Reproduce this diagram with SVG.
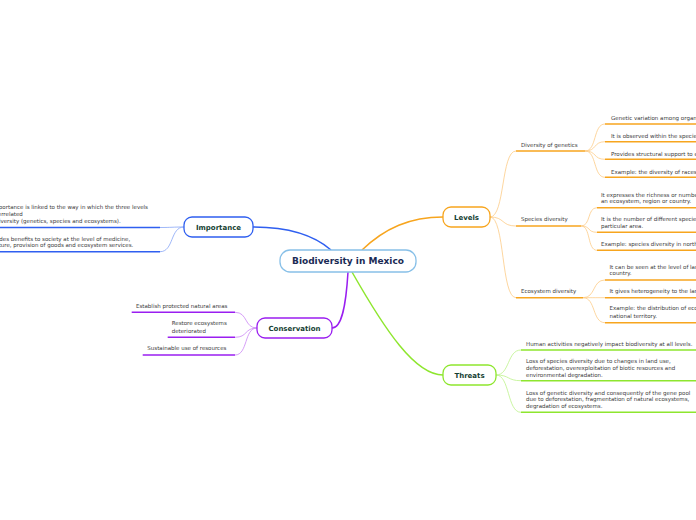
<svg xmlns="http://www.w3.org/2000/svg" width="696" height="520" viewBox="0 0 696 520">
<style>
.t{font-family:"DejaVu Sans",Verdana,sans-serif;font-size:5.5px;fill:#3a3a3a}
.n{font-family:"DejaVu Sans",Verdana,sans-serif;font-size:7px;font-weight:bold;fill:#163f33;text-anchor:middle}
.c{font-family:"DejaVu Sans",Verdana,sans-serif;font-size:9px;font-weight:bold;fill:#1a2b55;text-anchor:middle}
.box{fill:#fff;stroke-width:1.3}
path{fill:none}
.bu{stroke:#2f5ff0;stroke-width:1.6}.bc{stroke:#86a4f6;stroke-width:0.8}
.ou{stroke:#f7a51e;stroke-width:1.6}.oc{stroke:#fdcb86;stroke-width:0.8}
.pu{stroke:#9a1ef0;stroke-width:1.6}.pc{stroke:#cc86f5;stroke-width:0.8}
.gu{stroke:#8ee62e;stroke-width:1.6}.gc{stroke:#bdf28a;stroke-width:0.8}
</style>
<rect width="696" height="520" fill="#fff"/>
<g id="connectors">
  <path d="M331,250 C315,236 290,227 253,227" stroke="#2f5ff0" stroke-width="1.5"/>
  <path d="M362,250 C385,228 410,217 443,217" stroke="#f7a51e" stroke-width="1.5"/>
  <path d="M348,272 C346,305 342,328 332,328" stroke="#9a1ef0" stroke-width="1.5"/>
  <path d="M352,272 C385,330 415,375 443,375" stroke="#8ee62e" stroke-width="1.5"/>
  <!-- importance -->
  <path class="bc" d="M184,227 C172,227 172,227.5 160,227.5"/>
  <path class="bc" d="M184,227 C170,227 174,251.7 160,251.7"/>
  <!-- levels -->
  <path class="oc" d="M490,217 C505,217 501,151 516,151"/>
  <path class="oc" d="M490,217 C505,217 501,226 516,226"/>
  <path class="oc" d="M490,217 C505,217 501,297.7 516,297.7"/>
  <path class="oc" d="M585,151 C597,151 593,124 605,124"/>
  <path class="oc" d="M585,151 C597,151 593,141.7 605,141.7"/>
  <path class="oc" d="M585,151 C597,151 593,159.3 605,159.3"/>
  <path class="oc" d="M585,151 C597,151 593,177.3 605,177.3"/>
  <path class="oc" d="M581,226 C591,226 587,207.7 597,207.7"/>
  <path class="oc" d="M581,226 C591,226 587,232.3 597,232.3"/>
  <path class="oc" d="M581,226 C591,226 587,250.3 597,250.3"/>
  <path class="oc" d="M583,297.7 C596,297.7 592,280 605,280"/>
  <path class="oc" d="M583,297.7 C596,297.7 592,297.7 605,297.7"/>
  <path class="oc" d="M583,297.7 C596,297.7 592,322.7 605,322.7"/>
  <!-- conservation -->
  <path class="pc" d="M257,328 C244,328 248,312.3 235,312.3"/>
  <path class="pc" d="M257,328 C244,328 248,337.3 235,337.3"/>
  <path class="pc" d="M257,328 C244,328 248,355 235,355"/>
  <!-- threats -->
  <path class="gc" d="M496,375 C510,375 507,350 521,350"/>
  <path class="gc" d="M496,375 C510,375 507,380.7 521,380.7"/>
  <path class="gc" d="M496,375 C510,375 507,412.3 521,412.3"/>
</g>
<g id="center">
  <rect class="box" x="280" y="250" width="136" height="22" rx="10" stroke="#88c0e8" stroke-width="1.5"/>
  <text class="c" x="348" y="264.3">Biodiversity in Mexico</text>
</g>
<g id="importance">
  <rect class="box" x="184" y="217" width="69" height="20" rx="8" stroke="#2f5ff0"/>
  <text class="n" x="218.5" y="229.5">Importance</text>
</g>
<g id="importance-1">
  <path class="bu" d="M0,227.5 H160"/>
  <text class="t" x="-20" y="209.3">The importance is linked to the way in which the three levels</text>
  <text class="t" x="-20" y="216.3">are interrelated</text>
  <text class="t" x="-20" y="223.3">of biodiversity (genetics, species and ecosystems).</text>
</g>
<g id="importance-2">
  <path class="bu" d="M0,251.7 H160"/>
  <text class="t" x="-20" y="240.7">It provides benefits to society at the level of medicine,</text>
  <text class="t" x="-20" y="246.7">agriculture, provision of goods and ecosystem services.</text>
</g>
<g id="levels">
  <rect class="box" x="443" y="207" width="47" height="20" rx="8" stroke="#f7a51e"/>
  <text class="n" x="466.5" y="219.5">Levels</text>
</g>
<g id="genetics">
  <path class="ou" d="M516,151 H585"/>
  <text class="t" x="521" y="147">Diversity of genetics</text>
</g>
<g id="genetics-1"><path class="ou" d="M605,124 H700"/><text class="t" x="611" y="120.3">Genetic variation among organisms of the same species.</text></g>
<g id="genetics-2"><path class="ou" d="M605,141.7 H700"/><text class="t" x="611" y="137.7">It is observed within the species.</text></g>
<g id="genetics-3"><path class="ou" d="M605,159.3 H700"/><text class="t" x="611" y="156">Provides structural support to ecosystems.</text></g>
<g id="genetics-4"><path class="ou" d="M605,177.3 H700"/><text class="t" x="611" y="173.7">Example: the diversity of races of corn in Mexico.</text></g>
<g id="species">
  <path class="ou" d="M516,226 H581"/>
  <text class="t" x="521" y="221">Species diversity</text>
</g>
<g id="species-1"><path class="ou" d="M597,207.7 H700"/><text class="t" x="601" y="197">It expresses the richness or number of species in</text><text class="t" x="601" y="203.3">an ecosystem, region or country.</text></g>
<g id="species-2"><path class="ou" d="M597,232.3 H700"/><text class="t" x="601" y="221">It is the number of different species in a</text><text class="t" x="601" y="228.4">particular area.</text></g>
<g id="species-3"><path class="ou" d="M597,250.3 H700"/><text class="t" x="601" y="246.3">Example: species diversity in northern Mexico.</text></g>
<g id="ecosystem">
  <path class="ou" d="M516,297.7 H583"/>
  <text class="t" x="521" y="293">Ecosystem diversity</text>
</g>
<g id="ecosystem-1"><path class="ou" d="M605,280 H700"/><text class="t" x="609.5" y="268.7">It can be seen at the level of landscape, region or</text><text class="t" x="609.5" y="275.3">country.</text></g>
<g id="ecosystem-2"><path class="ou" d="M605,297.7 H700"/><text class="t" x="609.5" y="293">It gives heterogeneity to the landscape.</text></g>
<g id="ecosystem-3"><path class="ou" d="M605,322.7 H700"/><text class="t" x="609.5" y="310.3">Example: the distribution of ecosystems in the</text><text class="t" x="609.5" y="318">national territory.</text></g>
<g id="conservation">
  <rect class="box" x="257" y="318" width="75" height="20" rx="8" stroke="#9a1ef0"/>
  <text class="n" x="294.5" y="330.5">Conservation</text>
</g>
<g id="conservation-1"><path class="pu" d="M131.7,312.3 H235"/><text class="t" x="136" y="308">Establish protected natural areas</text></g>
<g id="conservation-2"><path class="pu" d="M167.7,337.3 H235"/><text class="t" x="171.7" y="325.3">Restore ecosystems</text><text class="t" x="171.7" y="332.7">deteriorated</text></g>
<g id="conservation-3"><path class="pu" d="M142.7,355 H235"/><text class="t" x="147.3" y="350.3">Sustainable use of resources</text></g>
<g id="threats">
  <rect class="box" x="443" y="365" width="53" height="20" rx="8" stroke="#8ee62e"/>
  <text class="n" x="469.5" y="377.5">Threats</text>
</g>
<g id="threats-1"><path class="gu" d="M521,350 H700"/><text class="t" x="526" y="346">Human activities negatively impact biodiversity at all levels.</text></g>
<g id="threats-2"><path class="gu" d="M521,380.7 H700"/><text class="t" x="526" y="363">Loss of species diversity due to changes in land use,</text><text class="t" x="526" y="370.3">deforestation, overexploitation of biotic resources and</text><text class="t" x="526" y="377">environmental degradation.</text></g>
<g id="threats-3"><path class="gu" d="M521,412.3 H700"/><text class="t" x="526" y="394.7">Loss of genetic diversity and consequently of the gene pool</text><text class="t" x="526" y="401.3">due to deforestation, fragmentation of natural ecosystems,</text><text class="t" x="526" y="408">degradation of ecosystems.</text></g>
</svg>
